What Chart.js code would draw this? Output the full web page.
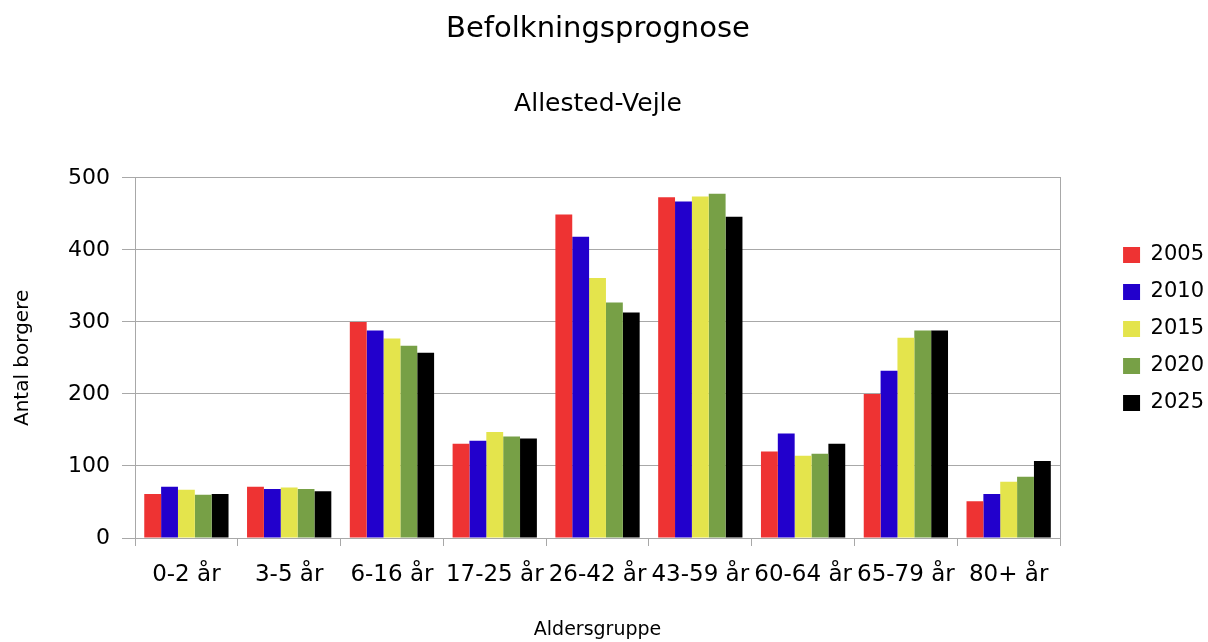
<!DOCTYPE html>
<html>
<head>
<meta charset="utf-8">
<script src="https://cdn.jsdelivr.net/npm/chart.js@4.4.1/dist/chart.umd.min.js"></script>
<style>
  html, body { margin: 0; padding: 0; background: #ffffff; }
  #wrap { width: 1208px; height: 642px; position: relative; }
</style>
</head>
<body>
<div id="wrap"><canvas id="c"></canvas></div>
<script>
const categories = ['0-2 år', '3-5 år', '6-16 år', '17-25 år', '26-42 år', '43-59 år', '60-64 år', '65-79 år', '80+ år'];
const seriesNames = ['2005', '2010', '2015', '2020', '2025'];
const values2005 = [61, 71, 300, 131, 449, 473, 120, 200, 51];
const values2010 = [71, 68, 288, 135, 418, 467, 145, 232, 61];
const values2015 = [67, 70, 277, 147, 361, 474, 114, 278, 78];
const values2020 = [60, 68, 267, 141, 327, 478, 117, 288, 85];
const values2025 = [61, 65, 257, 138, 313, 446, 131, 288, 107];
const yTicks = [0, 100, 200, 300, 400, 500];

const seriesValues = [values2005, values2010, values2015, values2020, values2025];
const seriesColors = ['#ee3333', '#2200cc', '#e4e44c', '#77a046', '#000000'];
const gridColor = '#a8a8a8';

Chart.defaults.font.family = "'DejaVu Sans', sans-serif";
Chart.defaults.color = '#000000';

new Chart(document.getElementById('c'), {
  type: 'bar',
  data: {
    labels: categories,
    datasets: seriesNames.map((name, i) => ({
      label: name,
      data: seriesValues[i],
      backgroundColor: seriesColors[i],
      borderWidth: 0,
      categoryPercentage: 0.82,
      barPercentage: 1.0,
      yAxisID: 'y'
    }))
  },
  options: {
    responsive: true,
    maintainAspectRatio: false,
    animation: false,
    devicePixelRatio: 1,
    layout: { padding: { left: -18, right: -6, top: 0, bottom: 0 } },
    plugins: {
      tooltip: { enabled: false },
      title: {
        display: true,
        text: 'Befolkningsprognose',
        color: '#000000',
        font: { size: 29, weight: 'normal' },
        padding: { top: 12, bottom: 0 }
      },
      subtitle: {
        display: true,
        text: 'Allested-Vejle',
        color: '#000000',
        font: { size: 25, weight: 'normal' },
        padding: { top: 43, bottom: 58 }
      },
      legend: {
        position: 'right',
        align: 'center',
        title: { display: true, text: ' ', font: { size: 10 }, padding: { top: 0, bottom: 4 } },
        labels: {
          color: '#000000',
          font: { size: 21 },
          boxWidth: 17,
          boxHeight: 16,
          padding: 16
        }
      }
    },
    scales: {
      x: {
        type: 'category',
        offset: true,
        grid: { display: true, drawOnChartArea: false, drawTicks: true, tickLength: 8, color: gridColor, offset: true },
        border: { display: true, color: gridColor },
        ticks: { color: '#000000', font: { size: 23 }, padding: 15, autoSkip: false, maxRotation: 0, minRotation: 0 },
        title: { display: true, text: 'Aldersgruppe', color: '#000000', font: { size: 19 }, padding: { top: 0, bottom: 1 } },
        afterFit: (s) => { s.height = 104; }
      },
      y: {
        type: 'linear',
        position: 'left',
        min: yTicks[0],
        max: yTicks[yTicks.length - 1],
        afterBuildTicks: (s) => { s.ticks = yTicks.map(v => ({ value: v })); },
        grid: { color: gridColor, tickLength: 13, lineWidth: 1 },
        border: { display: true, color: gridColor },
        ticks: { color: '#000000', font: { size: 22 }, padding: 12 },
        title: { display: true, text: 'Antal borgere', color: '#000000', font: { size: 20 }, padding: { top: 29, bottom: 0 } },
        afterFit: (s) => { s.width = 153; }
      },
      y2: {
        type: 'linear',
        position: 'right',
        min: yTicks[0],
        max: yTicks[yTicks.length - 1],
        grid: { display: true, drawOnChartArea: false, drawTicks: false },
        border: { display: true, color: gridColor },
        ticks: { display: false },
        afterFit: (s) => { s.width = 47; }
      }
    }
  }
});
</script>
</body>
</html>
